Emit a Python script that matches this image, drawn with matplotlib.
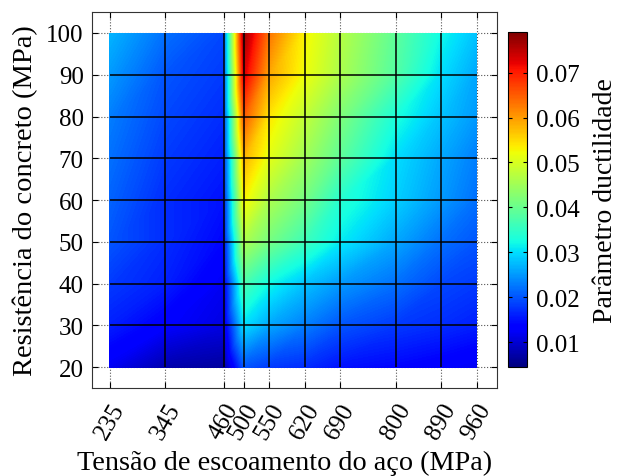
import numpy as np
import matplotlib.pyplot as plt
import matplotlib.tri as mtri

plt.rcParams['font.family'] = ['Liberation Serif', 'DejaVu Serif']

# tensão de escoamento do aço (MPa) e resistência do concreto (MPa)
fy = [235, 345, 460, 500, 550, 620, 690, 800, 890, 960]
fc = [20, 30, 40, 50, 60, 70, 80, 90, 100]

# parâmetro de ductilidade, uma linha por fc (de 20 a 100)
ductility = [
    [0.012, 0.0075, 0.0065, 0.020, 0.018, 0.017, 0.015, 0.014, 0.013, 0.012],
    [0.016, 0.013, 0.011, 0.030, 0.026, 0.023, 0.020, 0.018, 0.017, 0.016],
    [0.018, 0.016, 0.012, 0.037, 0.032, 0.028, 0.025, 0.022, 0.019, 0.018],
    [0.020, 0.017, 0.014, 0.046, 0.041, 0.036, 0.031, 0.026, 0.022, 0.020],
    [0.021, 0.017, 0.015, 0.053, 0.046, 0.041, 0.034, 0.029, 0.025, 0.022],
    [0.022, 0.018, 0.016, 0.058, 0.051, 0.045, 0.039, 0.030, 0.026, 0.023],
    [0.023, 0.019, 0.017, 0.065, 0.054, 0.048, 0.042, 0.033, 0.028, 0.025],
    [0.025, 0.020, 0.018, 0.073, 0.059, 0.052, 0.046, 0.038, 0.030, 0.026],
    [0.027, 0.022, 0.019, 0.077, 0.063, 0.053, 0.047, 0.039, 0.032, 0.028],
]

vmin, vmax = 0.0045, 0.079

fig = plt.figure(figsize=(6.19, 4.77), dpi=100)
ax = fig.add_axes([0.1486, 0.1845, 0.654, 0.788])
cax = fig.add_axes([0.821, 0.2285, 0.031, 0.702])

# malha triangulada como a superfície interpolada (diagonal "/")
X, Y = np.meshgrid(fy, fc)
Z = np.array(ductility)
nx, ny = len(fy), len(fc)
tris = []
for j in range(ny - 1):
    for i in range(nx - 1):
        a = j * nx + i
        b = a + 1
        c = (j + 1) * nx + i + 1
        d = (j + 1) * nx + i
        tris.append([a, b, c])
        tris.append([a, c, d])
triang = mtri.Triangulation(X.ravel(), Y.ravel(), tris)
levels = np.linspace(vmin, vmax, 257)
surf = ax.tricontourf(triang, Z.ravel(), levels=levels, cmap='jet',
                      vmin=vmin, vmax=vmax, zorder=2, antialiased=False)

# linhas da malha
ax.vlines(fy[1:-1], fc[0], fc[-1], colors='black', linewidth=1.1, zorder=3)
ax.hlines(fc[1:-1], fy[0], fy[-1], colors='black', linewidth=1.1, zorder=3)

ax.set_xlim(200, 1000)
ax.set_ylim(15, 105)
ax.set_xticks(fy)
ax.set_xticklabels([str(v) for v in fy], rotation=60, ha='right', va='top',
                   rotation_mode='anchor', fontsize=18)
ax.set_yticks(fc)
ax.set_yticklabels([str(v) for v in fc], fontsize=18)
ax.grid(True, linestyle=':', color='#555555', linewidth=0.8, zorder=1)
ax.set_axisbelow(True)
ax.tick_params(direction='in', top=True, right=True, length=4, width=0.8)
ax.tick_params(axis='x', pad=8)
ax.tick_params(axis='y', pad=6)
for sp in ax.spines.values():
    sp.set_linewidth(0.8)
    sp.set_color('#333333')

ax.set_xlabel('Tensão de escoamento do aço (MPa)', fontsize=20.3)
ax.set_ylabel('Resistência do concreto (MPa)', fontsize=20.5)
# posições dos títulos dos eixos em pixels da figura
ax.xaxis.set_label_coords(285 / 619, 7 / 477, transform=fig.transFigure)
ax.xaxis.label.set_va('baseline')
ax.yaxis.set_label_coords(25 / 619, 0.5 * (0.1845 + 0.9725), transform=fig.transFigure)
ax.yaxis.label.set_va('center')

sm = plt.cm.ScalarMappable(cmap='jet', norm=plt.Normalize(vmin, vmax))
cb = fig.colorbar(sm, cax=cax)
cb.set_ticks([0.01, 0.02, 0.03, 0.04, 0.05, 0.06, 0.07])
cb.ax.tick_params(labelsize=18, direction='in', length=3, left=True, pad=6)
cb.outline.set_linewidth(0.8)
cb.set_label('Parâmetro ductilidade', fontsize=20)
cb.ax.yaxis.set_label_coords(606 / 619, 0.5 * (0.2285 + 0.9305), transform=fig.transFigure)
cb.ax.yaxis.label.set_va('center')

fig.savefig('out.png', dpi=100)
